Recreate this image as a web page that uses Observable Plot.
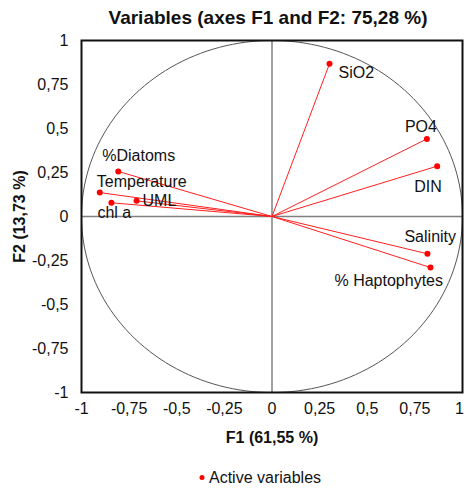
<!DOCTYPE html>
<html>
<head>
<meta charset="utf-8">
<script src="https://cdn.jsdelivr.net/npm/d3@7"></script>
<script src="https://cdn.jsdelivr.net/npm/@observablehq/plot@0.6"></script>
<style>
  html, body { margin: 0; padding: 0; background: #fff; }
</style>
</head>
<body>
<div id="chart"></div>
<script>
const variables = ["SiO2", "PO4", "DIN", "Salinity", "% Haptophytes", "%Diatoms", "Temperature", "UML", "chl a"];
const f1 = [0.302, 0.813, 0.867, 0.816, 0.832, -0.807, -0.904, -0.711, -0.843];
const f2 = [0.868, 0.441, 0.286, -0.212, -0.290, 0.256, 0.136, 0.089, 0.078];
const axisTicks = [-1, -0.75, -0.5, -0.25, 0, 0.25, 0.5, 0.75, 1];
const xTicksInner = [-1, -0.75, -0.5, -0.25, 0, 0.25, 0.5, 0.75];
const xTicksEdge = [1];
const titleText = "Variables (axes F1 and F2: 75,28 %)";
const xLabel = "F1 (61,55 %)";
const yLabel = "F2 (13,73 %)";
const legendText = "Active variables";

// label layout (pixel offsets from each point)
const labelDx = [9, -22, -23, -23, -96, -16, -3, 6, -14];
const labelDy = [9, -12, 21, -17, 13, -16, -11, 0, 10];

const rows = variables.map((v, i) => ({name: v, x: f1[i], y: f2[i]}));
const circle = d3.range(0, 361, 2).map(a => ({x: Math.cos(a * Math.PI / 180), y: Math.sin(a * Math.PI / 180)}));
const fmt = d => String(d).replace(".", ",");
const font = "'Liberation Sans', Arial, sans-serif";

const labelMarks = rows.map((r, i) => Plot.text([r], {
  x: "x", y: "y", text: "name", textAnchor: "start",
  dx: labelDx[i], dy: labelDy[i], fill: "#111", fontSize: 16
}));

const chart = Plot.plot({
  width: 464,
  height: 488,
  marginTop: 40,
  marginBottom: 96,
  marginLeft: 81,
  marginRight: 2,
  style: {fontFamily: font, fontSize: "16px", color: "#111", background: "#fff"},
  x: {domain: [-1, 1]},
  y: {domain: [-1, 1]},
  marks: [
    Plot.ruleX([0], {stroke: "#808080", strokeWidth: 1.5}),
    Plot.ruleY([0], {stroke: "#808080", strokeWidth: 1.5}),
    Plot.line(circle, {x: "x", y: "y", stroke: "#555", strokeWidth: 1}),
    Plot.link(rows, {x1: 0, y1: 0, x2: "x", y2: "y", stroke: "#ff2020", strokeWidth: 1}),
    Plot.dot(rows, {x: "x", y: "y", r: 3, fill: "#ff0000"}),
    ...labelMarks,
    Plot.frame({stroke: "#111", strokeWidth: 2}),
    Plot.axisX(xTicksInner, {tickFormat: fmt, tickSize: 0, tickPadding: 10, fontSize: 16,
      label: xLabel, labelAnchor: "center", labelArrow: "none", labelOffset: 50}),
    Plot.axisX(xTicksEdge, {tickFormat: fmt, tickSize: 0, tickPadding: 10, fontSize: 16, dx: -3, label: null}),
    Plot.axisY(axisTicks, {tickFormat: fmt, tickSize: 0, tickPadding: 13, fontSize: 16,
      label: yLabel, labelAnchor: "center", labelArrow: "none", labelOffset: 68}),
    Plot.text([titleText], {frameAnchor: "top", lineAnchor: "middle", dy: -23, dx: -4, fontWeight: "bold", fontSize: 19, fill: "#111"}),
    Plot.dot([legendText], {frameAnchor: "bottom", dy: 85, dx: -70, r: 2.5, fill: "#ff0000"}),
    Plot.text([legendText], {frameAnchor: "bottom", lineAnchor: "middle", dy: 85, dx: -63, textAnchor: "start", fontSize: 16, fill: "#111"})
  ]
});

// make axis labels bold
chart.querySelectorAll('[aria-label="x-axis label"] text, [aria-label="y-axis label"] text, [aria-label="x-axis label"], [aria-label="y-axis label"]').forEach(t => {
  t.setAttribute("font-weight", "bold");
});
document.getElementById("chart").appendChild(chart);
</script>
</body>
</html>
